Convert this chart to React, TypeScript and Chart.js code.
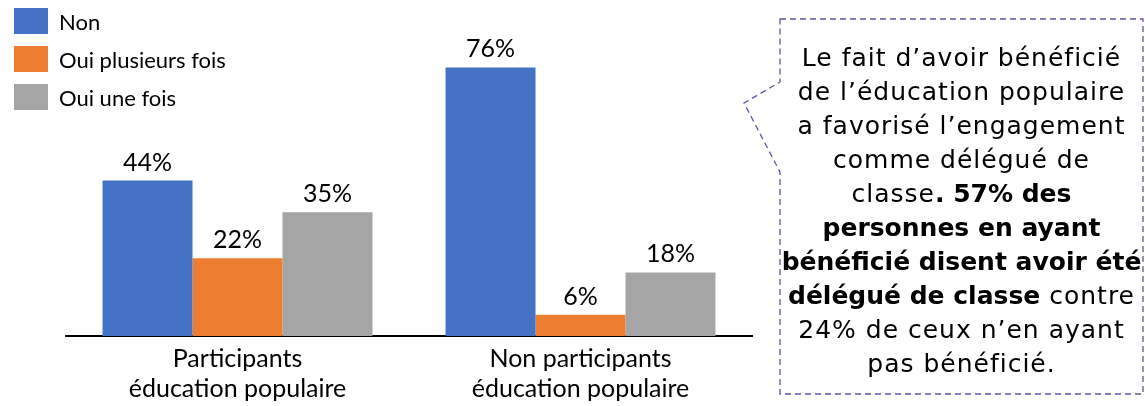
import React, { useEffect, useRef } from "react";
import { Chart, registerables } from "chart.js";

Chart.register(...registerables);

const categories: string[][] = [
  ["Participants", "éducation populaire"],
  ["Non participants", "éducation populaire"],
];
const seriesNames = ["Non", "Oui plusieurs fois", "Oui une fois"];
const seriesColors = ["#4472C4", "#ED7D31", "#A5A5A5"];
const nonValues = [44, 76];
const plusieursValues = [22, 6];
const uneFoisValues = [35, 18];
const yMax = 90;

const calloutLines: { text: string; bold?: boolean }[][] = [
  [{ text: "Le fait d’avoir bénéficié" }],
  [{ text: "de l’éducation populaire" }],
  [{ text: "a favorisé l’engagement" }],
  [{ text: "comme délégué de" }],
  [{ text: "classe" }, { text: ". 57% des", bold: true }],
  [{ text: "personnes en ayant", bold: true }],
  [{ text: "bénéficié disent avoir été", bold: true }],
  [{ text: "délégué de classe", bold: true }, { text: " contre" }],
  [{ text: "24% de ceux n’en ayant" }],
  [{ text: "pas bénéficié." }],
];

const FONT = "Lato, 'Open Sans', sans-serif";

const valueLabels = {
  id: "valueLabels",
  afterDatasetsDraw(chart: any) {
    const ctx = chart.ctx;
    ctx.save();
    ctx.font = `25px ${FONT}`;
    ctx.fillStyle = "#000";
    ctx.textAlign = "center";
    ctx.textBaseline = "alphabetic";
    chart.data.datasets.forEach((ds: any, i: number) => {
      const meta = chart.getDatasetMeta(i);
      meta.data.forEach((el: any, j: number) => {
        ctx.fillText(`${ds.data[j]}%`, el.x, el.y - 10);
      });
    });
    ctx.restore();
  },
};

export default function App() {
  const ref = useRef<HTMLCanvasElement>(null);
  useEffect(() => {
    document.body.style.margin = "0";
    const values = [nonValues, plusieursValues, uneFoisValues];
    const chart = new Chart(ref.current!, {
      type: "bar",
      data: {
        labels: categories,
        datasets: seriesNames.map((n, i) => ({
          label: n,
          data: values[i],
          backgroundColor: seriesColors[i],
          categoryPercentage: 0.787,
          barPercentage: 1,
        })),
      },
      options: {
        responsive: false,
        animation: false,
        devicePixelRatio: 1,
        layout: { padding: { left: 66, right: 8, top: 18, bottom: 0 } },
        plugins: { legend: { display: false }, tooltip: { enabled: false } },
        scales: {
          x: {
            grid: { display: false },
            border: { display: true, color: "#000", width: 2 },
            ticks: {
              color: "#000",
              font: { family: FONT, size: 25, lineHeight: 1.2 },
              padding: 0,
            },
            afterFit: (s: any) => {
              s.height = 70;
            },
          },
          y: { display: false, min: 0, max: yMax },
        },
      },
      plugins: [valueLabels],
    });
    return () => chart.destroy();
  }, []);

  return (
    <div style={{ position: "relative", width: 1145, height: 406, background: "#fff", overflow: "hidden" }}>
      <canvas ref={ref} width={760} height={406} style={{ position: "absolute", left: 0, top: 0 }} />
      {seriesNames.map((n, i) => (
        <div key={n} style={{ position: "absolute", left: 14, top: 8 + i * 38, height: 26, display: "flex", alignItems: "center" }}>
          <div style={{ width: 34, height: 26, background: seriesColors[i] }} />
          <span style={{ marginLeft: 11, fontFamily: FONT, fontSize: 22, color: "#000", whiteSpace: "nowrap" }}>{n}</span>
        </div>
      ))}
      <svg width={1145} height={406} style={{ position: "absolute", left: 0, top: 0 }}>
        <path
          d="M780,19 H1143 V394 H780 V172 L744,103 L780,82 Z"
          fill="none"
          stroke="#5A55A8"
          strokeWidth={1.3}
          strokeDasharray="6 4"
        />
      </svg>
      <div
        style={{
          position: "absolute",
          left: 780,
          top: 41,
          width: 363,
          textAlign: "center",
          fontFamily: "'DejaVu Sans', sans-serif",
          fontSize: 25,
          lineHeight: "34px",
          color: "#000",
          whiteSpace: "nowrap",
        }}
      >
        {calloutLines.map((line, i) => (
          <div key={i}>
            {line.map((seg, k) => (
              <span key={k} style={{ fontWeight: seg.bold ? 700 : 400, letterSpacing: seg.bold ? 0 : 1 }}>{seg.text}</span>
            ))}
          </div>
        ))}
      </div>
    </div>
  );
}
